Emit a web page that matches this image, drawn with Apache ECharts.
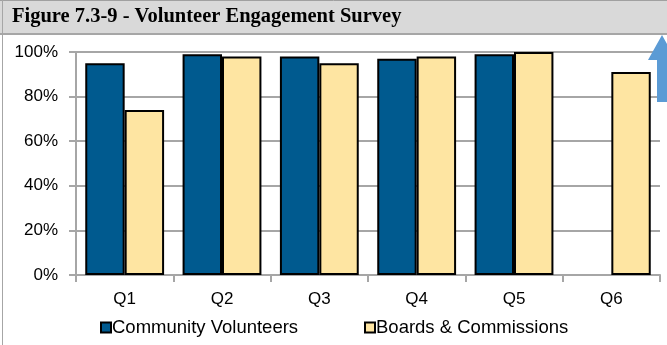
<!DOCTYPE html>
<html>
<head>
<meta charset="utf-8">
<script src="https://cdn.jsdelivr.net/npm/echarts@6/dist/echarts.min.js"></script>
<style>
html,body{margin:0;padding:0;background:#fff;}
#main{width:667px;height:345px;}
</style>
</head>
<body>
<div id="main"></div>
<script>
var titleText = 'Figure 7.3-9 - Volunteer Engagement Survey';
var categories = ['Q1', 'Q2', 'Q3', 'Q4', 'Q5', 'Q6'];
var seriesNames = ['Community Volunteers', 'Boards & Commissions'];
var communityVolunteers = [0.95, 0.99, 0.98, 0.97, 0.99, null];
var boardsCommissions = [0.74, 0.98, 0.95, 0.98, 1.00, 0.91];
var yTicks = [0, 0.2, 0.4, 0.6, 0.8, 1.0];

var chart = echarts.init(document.getElementById('main'), null, {renderer: 'canvas'});
var font = '"Liberation Sans", Arial, sans-serif';
chart.setOption({
  animation: false,
  backgroundColor: '#ffffff',
  graphic: [
    {type: 'rect', shape: {x: 0, y: 0, width: 667, height: 34}, style: {fill: '#d9d9d9'}, z: 0},
    {type: 'line', shape: {x1: 0, y1: 0.5, x2: 667, y2: 0.5}, style: {stroke: '#a0a0a0', lineWidth: 1}},
    {type: 'line', shape: {x1: 0, y1: 34, x2: 667, y2: 34}, style: {stroke: '#a6a6a6', lineWidth: 2}},
    {type: 'line', shape: {x1: 2.5, y1: 0, x2: 2.5, y2: 345}, style: {stroke: '#a6a6a6', lineWidth: 1}},
    {type: 'text', left: 12, top: 6, style: {text: titleText, font: 'bold 20.5px "Liberation Serif", "Times New Roman", serif', fill: '#000'}},
    {type: 'polygon', shape: {points: [[662, 35], [648, 60], [657, 60], [657, 102], [667, 102], [667, 60], [676, 60]]}, style: {fill: '#5b9bd5'}, z: 100}
  ],
  grid: {left: 76, right: 7, top: 52, bottom: 70, containLabel: false},
  legend: [
    {data: [seriesNames[0]], left: 95, top: 313, itemWidth: 10, itemHeight: 10, icon: 'rect',
     textStyle: {fontFamily: font, fontSize: 18.5, color: '#000', padding: [0, 0, 0, -4]}},
    {data: [seriesNames[1]], left: 359, top: 313, itemWidth: 10, itemHeight: 10, icon: 'rect',
     textStyle: {fontFamily: font, fontSize: 18.5, color: '#000', padding: [0, 0, 0, -4]}}
  ],
  xAxis: {
    type: 'category',
    data: categories,
    axisLine: {lineStyle: {color: '#a6a6a6', width: 2}},
    axisTick: {show: true, length: 7, lineStyle: {color: '#a6a6a6', width: 2}},
    axisLabel: {fontFamily: font, fontSize: 17, color: '#000', margin: 16}
  },
  yAxis: {
    type: 'value',
    min: 0, max: 1, interval: 0.2,
    axisLine: {show: true, lineStyle: {color: '#a6a6a6', width: 2}},
    axisTick: {show: true, length: 7, lineStyle: {color: '#a6a6a6', width: 2}},
    splitLine: {lineStyle: {color: '#a6a6a6', width: 2}},
    axisLabel: {fontFamily: font, fontSize: 17, color: '#000', margin: 18,
      formatter: function (v) { return Math.round(v * 100) + '%'; }}
  },
  series: [
    {name: seriesNames[0], type: 'bar', data: communityVolunteers, barGap: '0%', barCategoryGap: '19%',
     itemStyle: {color: '#005a8f', borderColor: '#000', borderWidth: 2}},
    {name: seriesNames[1], type: 'bar', data: boardsCommissions, barGap: '0%', barCategoryGap: '19%',
     itemStyle: {color: '#fee5a2', borderColor: '#000', borderWidth: 2}}
  ]
});
</script>
</body>
</html>
